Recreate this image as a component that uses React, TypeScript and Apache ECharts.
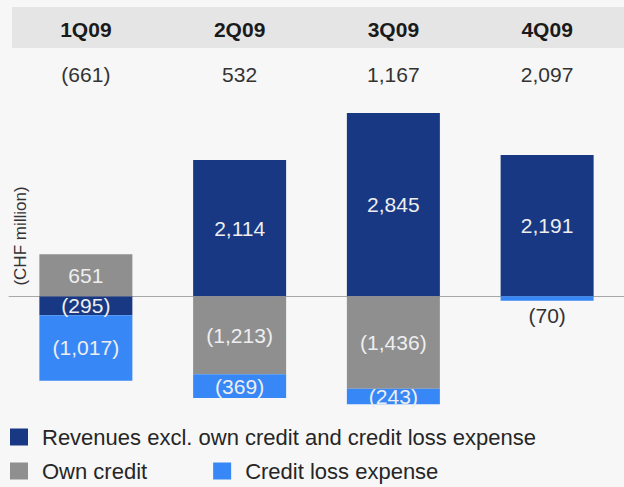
import React, { useEffect, useRef } from "react";
import * as echarts from "echarts";

const quarters = ["1Q09", "2Q09", "3Q09", "4Q09"];
const totals = [-661, 532, 1167, 2097];
const revenues = [-295, 2114, 2845, 2191];
const ownCredit: (number | null)[] = [651, -1213, -1436, null];
const creditLoss = [-1017, -369, -243, -70];
const seriesNames = ["Revenues excl. own credit and credit loss expense", "Own credit", "Credit loss expense"];
const colors = ["#183884", "#8f8f8f", "#3788f6"];

const FONT = "'Liberation Sans', Arial, sans-serif";

function fmt(v: number): string {
  const s = Math.abs(v).toLocaleString("en-US");
  return v < 0 ? `(${s})` : s;
}

export default function App() {
  const ref = useRef<HTMLDivElement>(null);
  useEffect(() => {
    document.body.style.margin = "0";
    const chart = echarts.init(ref.current!, null, { renderer: "svg" });
    const label = {
      show: true,
      position: "inside",
      color: "#eeeeee",
      fontSize: 21,
      fontFamily: FONT,
      formatter: (p: any) => fmt(p.value),
    };
    const credit = creditLoss.map((v, i) =>
      i === 3
        ? { value: v, label: { position: "bottom", color: "#333333", distance: 4 } }
        : v
    );
    const legendText = { fontSize: 22, color: "#262626", fontFamily: FONT, padding: [0, 0, 0, 9] };
    chart.setOption({
      animation: false,
      backgroundColor: "#f7f7f7",
      textStyle: { fontFamily: FONT },
      grid: { left: 9, width: 620, top: 103, height: 322 },
      graphic: [
        {
          type: "rect",
          z: -10,
          shape: { x: 12, y: 7, width: 612, height: 41 },
          style: { fill: "#e5e5e5" },
        },
        {
          type: "text",
          x: 20,
          y: 236,
          rotation: Math.PI / 2,
          style: {
            text: "(CHF million)",
            fontSize: 17,
            fontFamily: FONT,
            fill: "#333333",
            align: "center",
            verticalAlign: "middle",
          },
        },
      ],
      legend: [
        {
          left: 10,
          top: 426,
          padding: 0,
          icon: "rect",
          itemWidth: 18,
          itemHeight: 17,
          data: [seriesNames[0]],
          textStyle: legendText,
        },
        {
          left: 10,
          top: 460,
          padding: 0,
          icon: "rect",
          itemWidth: 18,
          itemHeight: 17,
          itemGap: 66,
          data: [seriesNames[1], seriesNames[2]],
          textStyle: legendText,
        },
      ],
      xAxis: [
        {
          type: "category",
          data: quarters,
          position: "bottom",
          axisLine: { onZero: true, lineStyle: { color: "#a8a8a8", width: 1 } },
          axisTick: { show: false },
          axisLabel: { show: false },
        },
        {
          type: "category",
          data: quarters,
          position: "top",
          offset: 74,
          axisLine: { show: false },
          axisTick: { show: false },
          axisLabel: {
            margin: 0,
            verticalAlign: "middle",
            fontSize: 21,
            fontWeight: "bold",
            color: "#1a1a1a",
            fontFamily: FONT,
          },
        },
        {
          type: "category",
          data: totals.map((v) => fmt(v)),
          position: "top",
          offset: 29,
          axisLine: { show: false },
          axisTick: { show: false },
          axisLabel: {
            margin: 0,
            verticalAlign: "middle",
            fontSize: 21,
            color: "#333333",
            fontFamily: FONT,
          },
        },
      ],
      yAxis: {
        type: "value",
        min: -2000,
        max: 3000,
        show: false,
      },
      series: [
        {
          name: seriesNames[0],
          type: "bar",
          stack: "s",
          barWidth: 93,
          data: revenues,
          itemStyle: { color: colors[0] },
          label,
        },
        {
          name: seriesNames[1],
          type: "bar",
          stack: "s",
          barWidth: 93,
          data: ownCredit,
          itemStyle: { color: colors[1] },
          label,
        },
        {
          name: seriesNames[2],
          type: "bar",
          stack: "s",
          barWidth: 93,
          data: credit,
          itemStyle: { color: colors[2] },
          label,
        },
      ],
    });
    return () => chart.dispose();
  }, []);
  return <div ref={ref} style={{ width: 624, height: 487 }} />;
}
